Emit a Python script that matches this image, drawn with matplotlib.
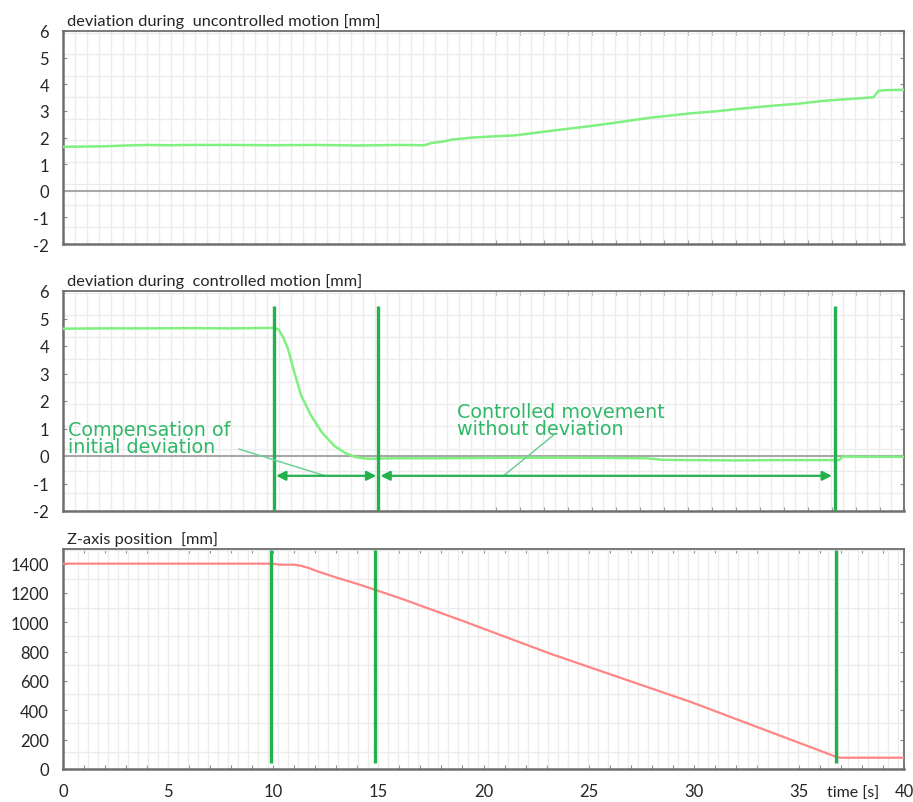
import numpy as np
import matplotlib
matplotlib.use("Agg")
import matplotlib.pyplot as plt

# --- data -----------------------------------------------------------------
# deviation during uncontrolled motion [mm]
t_unctrl = [0, 1, 2, 3, 4, 5, 6, 8, 10, 12, 14, 16, 17.2, 17.5, 18.1, 18.5,
            19.5, 20.9, 21.5, 23.2, 25, 26.4, 28, 29.9, 31, 32.1, 33.7, 35,
            36.2, 37.5, 38.55, 38.8, 39.2, 40]
dev_unctrl = [1.65, 1.66, 1.67, 1.70, 1.72, 1.71, 1.72, 1.72, 1.71, 1.72,
              1.70, 1.72, 1.71, 1.79, 1.85, 1.92, 2.00, 2.06, 2.08, 2.25,
              2.42, 2.57, 2.75, 2.91, 2.98, 3.07, 3.19, 3.27, 3.38, 3.45,
              3.51, 3.76, 3.78, 3.79]

# deviation during controlled motion [mm]
t_ctrl = [0, 2, 4, 6, 8, 10.05, 10.25, 10.45, 10.7, 11.0, 11.33, 11.8, 12.3,
          12.9, 13.4, 13.9, 14.5, 16, 18, 20, 22, 24, 26, 27.7, 28.5, 30, 32,
          34, 36.9, 37.1, 38, 40]
dev_ctrl = [4.63, 4.64, 4.64, 4.65, 4.64, 4.66, 4.60, 4.35, 3.90, 3.05, 2.19,
            1.47, 0.87, 0.37, 0.12, -0.04, -0.10, -0.08, -0.08, -0.07, -0.06,
            -0.06, -0.07, -0.08, -0.14, -0.15, -0.16, -0.15, -0.15, -0.02,
            -0.03, -0.03]

# Z-axis position [mm]
t_z = [0, 5, 10, 10.3, 11.0, 11.33, 11.7, 12.1, 12.9, 14.0, 14.8, 16.1,
       18.95, 23.2, 29.9, 36.7, 36.95, 40]
z_pos = [1400, 1400, 1400, 1393, 1393, 1385, 1370, 1348, 1310, 1262, 1224,
         1161, 1013, 785, 455, 87, 77, 77]

# phase boundaries [s]
phase_ctrl = [10.05, 15.0, 36.7]
phase_z = [9.9, 14.86, 36.76]

# phase arrows [s]
arrow_comp = (10.14, 14.9)
arrow_move = (15.1, 36.57)

titles = ["deviation during  uncontrolled motion [mm]",
          "deviation during  controlled motion [mm]",
          "Z-axis position  [mm]"]
x_labels = [0, 5, 10, 15, 20, 25, 30, 35, 40]
dev_ticks = [-2, -1, 0, 1, 2, 3, 4, 5, 6]
z_ticks = [0, 200, 400, 600, 800, 1000, 1200, 1400]

# --- style ----------------------------------------------------------------
plt.rcParams['font.family'] = ['Lato', 'DejaVu Sans']
LIGHT_GREEN = '#80f080'
RED = '#ff8585'
MARK_GREEN = '#22b14c'
NOTE_GREEN = '#30b868'
LEADER = '#6fcf97'
FRAME = '#6e6e6e'
GRID = '#ececec'
TXT = '#262626'

fig = plt.figure(figsize=(9.13, 8.03), dpi=100)
W, H = 913, 803


def px_axes(left, top, right, bottom):
    return fig.add_axes([left / W, 1 - bottom / H, (right - left) / W, (bottom - top) / H])


ax1 = px_axes(63, 32, 904, 245)
ax2 = px_axes(63, 292, 904, 512)
ax3 = px_axes(63, 550, 904, 770)


def style(ax, title, xtick_step, xgrid, ygrid, yticks):
    ax.set_xlim(0, 40)
    for s in ax.spines.values():
        s.set_color(FRAME)
        s.set_linewidth(1.3)
    ax.spines['left'].set_linewidth(1.8)
    ax.spines['bottom'].set_linewidth(1.8)
    ax.set_yticks(yticks)
    ax.set_yticklabels([str(v) for v in yticks])
    ax.set_xticks(np.arange(0, 40.01, xtick_step))
    ax.set_xticks(xgrid, minor=True)
    ax.set_yticks(ygrid, minor=True)
    ax.tick_params(which='major', direction='in', length=3, width=0.8,
                   color='#8a8a8a', top=True, right=True, labelsize=12,
                   labelcolor=TXT, pad=10)
    ax.tick_params(which='minor', length=0)
    ax.tick_params(axis='x', labelbottom=False)
    ax.grid(which='minor', color=GRID, linewidth=1.0)
    ax.set_axisbelow(True)
    ax.text(0.005, 1.015, title, transform=ax.transAxes, ha='left',
            va='bottom', fontsize=11.8, color=TXT)


grid_x12 = np.arange(0.57, 40, 0.571)
grid_x3 = np.arange(0.7, 40, 0.476)
grid_dev = np.arange(-1.35, 6, 0.81)
grid_z = np.arange(116, 1500, 197)

# panel 1
ax1.set_ylim(-2, 6)
style(ax1, titles[0], 8 / 7, grid_x12, grid_dev, dev_ticks)
ax1.axhline(0, color='#a8a8a8', lw=1.5, zorder=1)
ax1.plot(t_unctrl, dev_unctrl, color=LIGHT_GREEN, lw=1.8, zorder=3)

# panel 2
ax2.set_ylim(-2, 6)
style(ax2, titles[1], 8 / 7, grid_x12, grid_dev, dev_ticks)
ax2.axhline(0, color='#a8a8a8', lw=1.5, zorder=1)
ax2.plot(t_ctrl, dev_ctrl, color=LIGHT_GREEN, lw=1.8, zorder=3)
ax2.vlines(phase_ctrl, -2, 5.45, color=MARK_GREEN, lw=2.4, zorder=4)
for a, b in (arrow_comp, arrow_move):
    ax2.annotate('', xy=(b, -0.72), xytext=(a, -0.72),
                 arrowprops=dict(arrowstyle='<|-|>', color=MARK_GREEN, lw=1.6,
                                 mutation_scale=14, shrinkA=0, shrinkB=0),
                 zorder=5)
ax2.plot([8.38, 12.43], [0.25, -0.71], color=LEADER, lw=1.1, zorder=4)
ax2.plot([23.3, 21.0], [0.74, -0.69], color=LEADER, lw=1.1, zorder=4)
ax2.text(0.22, 0.66, "Compensation of\ninitial deviation", fontsize=13.8,
         family='DejaVu Sans', color=NOTE_GREEN, ha='left', va='center',
         linespacing=0.85, zorder=6)
ax2.text(18.76, 1.30, "Controlled movement\nwithout deviation", fontsize=13.8,
         family='DejaVu Sans', color=NOTE_GREEN, ha='left', va='center',
         linespacing=0.85, zorder=6)

# panel 3
ax3.set_ylim(0, 1500)
style(ax3, titles[2], 1, grid_x3, grid_z, z_ticks)
ax3.tick_params(axis='x', labelbottom=True)
ax3.set_xticklabels([str(int(v)) if v in x_labels else ''
                     for v in np.arange(0, 40.01, 1)])
ax3.plot(t_z, z_pos, color=RED, lw=1.6, zorder=3)
ax3.vlines(phase_z, 40, 1492, color=MARK_GREEN, lw=2.4, zorder=4)
fig.text(853 / W, 1 - 794 / H, "time [s]", ha='center', va='center',
         fontsize=11.5, color=TXT)

fig.savefig("out.png", dpi=100)
